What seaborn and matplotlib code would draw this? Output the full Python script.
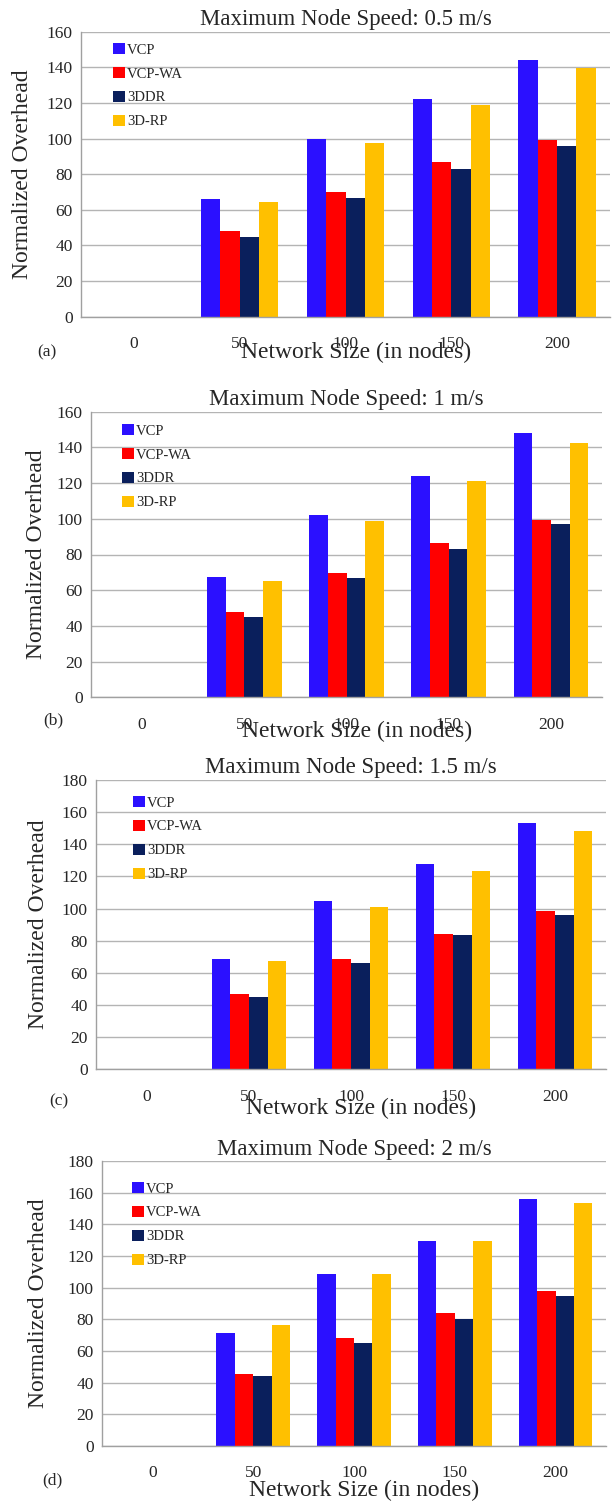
import numpy as np
import pandas as pd
import matplotlib
matplotlib.use("Agg")
import matplotlib.pyplot as plt
import seaborn as sns

# ---- data ----
sizes = ["0", "50", "100", "150", "200"]
protocols = ["VCP", "VCP-WA", "3DDR", "3D-RP"]
titles = ["Maximum Node Speed: 0.5 m/s", "Maximum Node Speed: 1 m/s",
          "Maximum Node Speed: 1.5 m/s", "Maximum Node Speed: 2 m/s"]
panel_tags = ["(a)", "(b)", "(c)", "(d)"]

vcp_a = [0, 66, 100, 122, 144]
vcpwa_a = [0, 48, 70, 86.6, 99.2]
ddr_a = [0, 45, 66.6, 82.7, 96]
rp_a = [0, 64.6, 97.3, 118.6, 139.8]

vcp_b = [0, 67.4, 102.3, 124.2, 148]
vcpwa_b = [0, 47.6, 69.5, 86.6, 99.3]
ddr_b = [0, 45, 67, 83.3, 96.9]
rp_b = [0, 65.3, 98.8, 121, 142.5]

vcp_c = [0, 68.4, 104.5, 128, 153.3]
vcpwa_c = [0, 46.7, 68.9, 84.4, 98.3]
ddr_c = [0, 45.2, 66.4, 83.4, 96]
rp_c = [0, 67.4, 100.8, 123.2, 148.1]

vcp_d = [0, 71.4, 108.4, 129.3, 156]
vcpwa_d = [0, 45.5, 68, 84, 97.7]
ddr_d = [0, 44.2, 65.3, 80.4, 94.7]
rp_d = [0, 76.4, 108.8, 129.3, 153.7]

ymax = [160, 160, 180, 180]

panels = [
    [vcp_a, vcpwa_a, ddr_a, rp_a],
    [vcp_b, vcpwa_b, ddr_b, rp_b],
    [vcp_c, vcpwa_c, ddr_c, rp_c],
    [vcp_d, vcpwa_d, ddr_d, rp_d],
]

colors = ["#2B10FF", "#FF0000", "#0A1F5C", "#FFC000"]

sns.set_theme(style="white")
plt.rcParams["font.family"] = ["Liberation Serif", "DejaVu Serif"]

W, H = 613, 1501
fig = plt.figure(figsize=(W / 100, H / 100), dpi=100)

# pixel layout of each panel
layout = [
    dict(l=81, r=610, t=31.7, b=316.7, ylx=23, xly=352, tag=(47, 352), ty=20, lgx=119, lgy=49),
    dict(l=91, r=602, t=411.7, b=697.3, ylx=37, xly=731, tag=(53, 720), ty=400, lgx=128, lgy=430),
    dict(l=96, r=606, t=780, b=1069.3, ylx=39, xly=1108, tag=(59, 1101), ty=767, lgx=139, lgy=802),
    dict(l=102, r=606, t=1161, b=1446, ylx=39, xly=1490, tag=(52, 1480), ty=1150, lgx=138, lgy=1188),
]

grid_c = "#B4B4B4"
for i, (vals, L) in enumerate(zip(panels, layout)):
    rows = []
    for p, series in zip(protocols, vals):
        for s, v in zip(sizes, series):
            rows.append(dict(size=s, protocol=p, value=v))
    df = pd.DataFrame(rows)

    wpx = L["r"] - L["l"]
    hpx = L["b"] - L["t"]
    ax = fig.add_axes([L["l"] / W, 1 - L["b"] / H, wpx / W, hpx / H])
    sns.barplot(data=df, x="size", y="value", hue="protocol", order=sizes,
                hue_order=protocols, palette=colors, width=0.73, saturation=1,
                ax=ax, errorbar=None, linewidth=0)
    ax.set_xlim(-0.5, 4.5)
    ax.set_ylim(0, ymax[i])
    ax.set_yticks(np.arange(0, ymax[i] + 1, 20))
    ax.yaxis.grid(True, color=grid_c, linewidth=1.0)
    ax.set_axisbelow(True)
    for sp in ["top", "right"]:
        ax.spines[sp].set_visible(False)
    for sp in ["left", "bottom"]:
        ax.spines[sp].set_color("#A0A0A0")
        ax.spines[sp].set_linewidth(1.0)
    ax.set_xticks(np.arange(-0.5, 5.0, 1.0), minor=True)
    ax.tick_params(axis="x", which="major", length=0, labelsize=12.5, pad=14)
    ax.tick_params(axis="x", which="minor", length=5, color="#A0A0A0", direction="out", width=1)
    ax.tick_params(axis="y", which="major", length=0, labelsize=12.5, pad=6)
    ax.set_ylabel("Normalized Overhead", fontsize=17)
    ax.yaxis.set_label_coords((L["ylx"] - L["l"]) / wpx, 0.5)
    ax.yaxis.label.set_verticalalignment("center")
    ax.set_xlabel("Network Size (in nodes)", fontsize=17)
    ax.xaxis.set_label_coords(0.52, -(L["xly"] - L["b"]) / hpx)
    ax.xaxis.label.set_verticalalignment("center")
    ax.set_title(titles[i], fontsize=16.5, pad=0, y=(L["b"] - L["ty"]) / hpx,
                 va="center")

    # legend: first row centre at (lgx, lgy) pixel
    ax.legend(loc="upper left",
              bbox_to_anchor=((L["lgx"] - 6 - L["l"]) / wpx, (L["b"] - L["lgy"] + 6) / hpx),
              frameon=False, fontsize=10.5, handlelength=0.8, handleheight=0.8,
              handletextpad=0.15, labelspacing=0.7, borderaxespad=0, borderpad=0)
    fig.text(L["tag"][0] / W, 1 - L["tag"][1] / H, panel_tags[i],
             fontsize=12.5, ha="center", va="center")

fig.savefig("out.png", dpi=100)
